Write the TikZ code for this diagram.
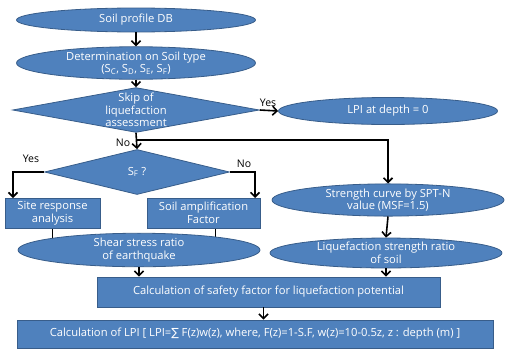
\documentclass[tikz,border=0pt]{standalone}
\usepackage{fontspec}
\setmainfont{Open Sans}
\newfontfamily\symfont{DejaVu Sans}
\usetikzlibrary{shapes.geometric,arrows.meta,backgrounds,calc}
\definecolor{boxblue}{HTML}{4F81BD}
\definecolor{edgeblue}{HTML}{385D8A}
\begin{document}
\begin{tikzpicture}[x=1pt,y=-1pt,
  base/.style={fill=boxblue,draw=edgeblue,line width=0.8pt,text=white,font=\fontsize{11.2}{12.5}\selectfont,align=center,inner sep=0pt},
  oval/.style={base,ellipse},
  rbox/.style={base,rectangle},
  dia/.style={base,diamond,aspect=1},
  arr/.style={line width=1.6pt,-{Straight Barb[length=4.5pt,width=9pt,line width=1.6pt]}},
  ln/.style={line width=1.6pt},
  lbl/.style={font=\fontsize{10.5}{12}\selectfont,text=black,inner sep=1pt}]
\useasboundingbox (0,0) rectangle (505,351);
\node[oval,minimum width=239pt,minimum height=24pt] (db) at (136,20) {Soil profile DB};
\node[oval,minimum width=239pt,minimum height=30pt] (soil) at (136,63) {Determination on Soil type\\(S\textsubscript{C}, S\textsubscript{D}, S\textsubscript{E}, S\textsubscript{F})};
\node[dia,minimum width=230pt,minimum height=42pt,shape aspect=5.5] (skip) at (136,110) {Skip of\\liquefaction\\assessment};
\node[oval,minimum width=219pt,minimum height=27pt] (lpi) at (388,111) {LPI at depth = 0};
\node[dia,minimum width=185pt,minimum height=45pt,shape aspect=4.1] (sf) at (137,172) {S\textsubscript{F} ?};
\node[rbox,minimum width=95pt,minimum height=30pt] (site) at (52.5,213) {Site response\\analysis};
\node[rbox,minimum width=113pt,minimum height=30pt] (amp) at (203.5,213) {Soil amplification\\Factor};
\node[oval,minimum width=242pt,minimum height=26pt] (shear) at (139,250) {Shear stress ratio\\of earthquake};
\node[oval,minimum width=232pt,minimum height=25pt] (str) at (388,200) {Strength curve by SPT-N\\value (MSF=1.5)};
\node[oval,minimum width=232pt,minimum height=27pt] (liq) at (386,253) {Liquefaction strength ratio\\of soil};
\node[rbox,minimum width=343pt,minimum height=30pt] (calc) at (268.5,292) {Calculation of safety factor for liquefaction potential};
\node[rbox,minimum width=476pt,minimum height=28pt] (final) at (255,334) {Calculation of LPI [ LPI={\symfont ∑} F(z)w(z), where, F(z)=1-S.F, w(z)=10-0.5z, z : depth (m) ]};
\coordinate (j) at (136,140);
\coordinate (yl) at (13,198);
\coordinate (nr) at (255,198);
\draw[arr] (db) -- (soil);
\draw[arr] (soil) -- (skip);
\draw[arr] (skip.east) -- (lpi.west) node[lbl,pos=0.45,above=2pt] {Yes};
\draw[arr] (skip.south) -- (sf.north);
\node[lbl] at (123,143) {No};
\draw[arr] (j) -| (str.north);
\draw[arr] (sf.west) -| (yl);
\node[lbl] at (31,159) {Yes};
\draw[arr] (sf.east) -| (nr);
\node[lbl] at (244,164) {No};
\begin{scope}[on background layer]
\draw[ln] (site.south) -- (site.south |- shear.center);
\draw[ln] ($(amp.south)+(12,0)$) -- ($(amp.south |- shear.center)+(12,0)$);
\end{scope}
\draw[arr] (str.south) -- (liq.north);
\draw[arr] (shear.south) -- (shear.south |- calc.north);
\draw[arr] (liq.south) -- (liq.south |- calc.north);
\draw[arr] ($(calc.south)+(-5,0)$) -- ($(calc.south |- final.north)+(-5,0)$);
\end{tikzpicture}
\end{document}
